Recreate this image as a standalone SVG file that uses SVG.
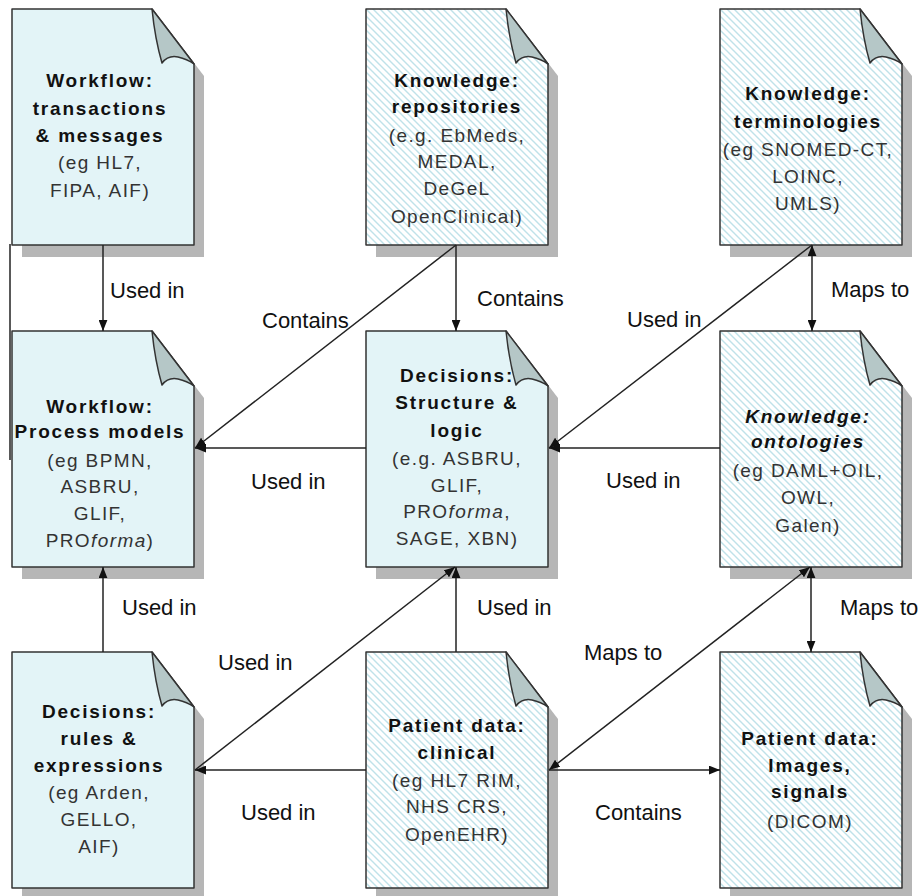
<svg xmlns="http://www.w3.org/2000/svg" width="921" height="896" viewBox="0 0 921 896">
<style>
  .pg { stroke:#333; stroke-width:1.5; stroke-linejoin:round; }
  .solid { fill:#e3f4f7; }
  .hatch { fill:url(#hatch); }
  .shadow { fill:#b6b6b6; }
  .flap { fill:#b5c7c7; stroke:#333; stroke-width:1.5; stroke-linejoin:round; }
  .t { font-family:"Liberation Sans", Arial, sans-serif; text-anchor:middle; }
  .b { font-size:19px; font-weight:bold; fill:#111; letter-spacing:1.8px; }
  .n { font-size:19px; fill:#333; letter-spacing:1.4px; }
  .lbl { font-family:"Liberation Sans", Arial, sans-serif; font-size:22px; fill:#111; }
  .c { fill:none; stroke:#222; stroke-width:1.5; }
</style>
<defs>
  <pattern id="hatch" patternUnits="userSpaceOnUse" width="7" height="7">
    <rect width="7" height="7" fill="#ffffff"/>
    <path d="M-2,-2 L9,9 M-2,5 L2,9 M5,-2 L9,2" stroke="#bfe2e9" stroke-width="1.4"/>
  </pattern>
  <path id="page" d="M0,0 H140 L182,55 V236 H0 Z"/>
  <path id="flap" d="M140,0 Q143,30 150,54 Q156,46 166,48 Q175,50 182,55 Z"/>
  <marker id="arr" viewBox="0 0 10 8" refX="10" refY="4" markerWidth="11" markerHeight="9" markerUnits="userSpaceOnUse" orient="auto-start-reverse">
    <path d="M0,0 L10,4 L0,8 Z" fill="#111"/>
  </marker>
</defs>

<line x1="10" y1="244" x2="10" y2="460" stroke="#222" stroke-width="1.5"/>

<g id="workflow-transactions" transform="translate(12,9)">
  <use href="#page" class="shadow" transform="translate(10,12)"/>
  <use href="#page" class="pg solid"/>
  <use href="#flap" class="flap"/>
  <text class="t b" x="88" y="78">Workflow:</text>
  <text class="t b" x="88" y="106">transactions</text>
  <text class="t b" x="88" y="133">&amp; messages</text>
  <text class="t n" x="88" y="160">(eg HL7,</text>
  <text class="t n" x="88" y="188">FIPA, AIF)</text>
</g>

<g id="knowledge-repositories" transform="translate(366,9)">
  <use href="#page" class="shadow" transform="translate(10,12)"/>
  <use href="#page" class="pg hatch"/>
  <use href="#flap" class="flap"/>
  <text class="t b" x="91" y="78">Knowledge:</text>
  <text class="t b" x="91" y="104">repositories</text>
  <text class="t n" x="91" y="133">(e.g. EbMeds,</text>
  <text class="t n" x="91" y="159">MEDAL,</text>
  <text class="t n" x="91" y="186">DeGeL</text>
  <text class="t n" x="91" y="214">OpenClinical)</text>
</g>

<g id="knowledge-terminologies" transform="translate(720,9)">
  <use href="#page" class="shadow" transform="translate(10,12)"/>
  <use href="#page" class="pg hatch"/>
  <use href="#flap" class="flap"/>
  <text class="t b" x="88" y="91">Knowledge:</text>
  <text class="t b" x="88" y="119">terminologies</text>
  <text class="t n" x="88" y="147">(eg SNOMED-CT,</text>
  <text class="t n" x="88" y="174">LOINC,</text>
  <text class="t n" x="88" y="201">UMLS)</text>
</g>

<g id="workflow-process" transform="translate(12,331)">
  <use href="#page" class="shadow" transform="translate(10,12)"/>
  <use href="#page" class="pg solid"/>
  <use href="#flap" class="flap"/>
  <text class="t b" x="88" y="82">Workflow:</text>
  <text class="t b" x="88" y="107">Process models</text>
  <text class="t n" x="88" y="136">(eg BPMN,</text>
  <text class="t n" x="88" y="162">ASBRU,</text>
  <text class="t n" x="88" y="189">GLIF,</text>
  <text class="t n" x="88" y="216">PRO<tspan font-style="italic">forma</tspan>)</text>
</g>

<g id="decisions-structure" transform="translate(366,331)">
  <use href="#page" class="shadow" transform="translate(10,12)"/>
  <use href="#page" class="pg solid"/>
  <use href="#flap" class="flap"/>
  <text class="t b" x="91" y="51">Decisions:</text>
  <text class="t b" x="91" y="78">Structure &amp;</text>
  <text class="t b" x="91" y="106">logic</text>
  <text class="t n" x="91" y="134">(e.g. ASBRU,</text>
  <text class="t n" x="91" y="161">GLIF,</text>
  <text class="t n" x="91" y="187">PRO<tspan font-style="italic">forma</tspan>,</text>
  <text class="t n" x="91" y="214">SAGE, XBN)</text>
</g>

<g id="knowledge-ontologies" transform="translate(720,331)">
  <use href="#page" class="shadow" transform="translate(10,12)"/>
  <use href="#page" class="pg hatch"/>
  <use href="#flap" class="flap"/>
  <text class="t b" x="88" y="92" font-style="italic">Knowledge:</text>
  <text class="t b" x="88" y="117" font-style="italic">ontologies</text>
  <text class="t n" x="88" y="146">(eg DAML+OIL,</text>
  <text class="t n" x="88" y="173">OWL,</text>
  <text class="t n" x="88" y="201">Galen)</text>
</g>

<g id="decisions-rules" transform="translate(12,652)">
  <use href="#page" class="shadow" transform="translate(10,12)"/>
  <use href="#page" class="pg solid"/>
  <use href="#flap" class="flap"/>
  <text class="t b" x="87" y="66">Decisions:</text>
  <text class="t b" x="87" y="93">rules &amp;</text>
  <text class="t b" x="87" y="120">expressions</text>
  <text class="t n" x="87" y="147">(eg Arden,</text>
  <text class="t n" x="87" y="174">GELLO,</text>
  <text class="t n" x="87" y="201">AIF)</text>
</g>

<g id="patient-clinical" transform="translate(366,652)">
  <use href="#page" class="shadow" transform="translate(10,12)"/>
  <use href="#page" class="pg hatch"/>
  <use href="#flap" class="flap"/>
  <text class="t b" x="91" y="80">Patient data:</text>
  <text class="t b" x="91" y="107">clinical</text>
  <text class="t n" x="91" y="135">(eg HL7 RIM,</text>
  <text class="t n" x="91" y="161">NHS CRS,</text>
  <text class="t n" x="91" y="189">OpenEHR)</text>
</g>

<g id="patient-images" transform="translate(720,652)">
  <use href="#page" class="shadow" transform="translate(10,12)"/>
  <use href="#page" class="pg hatch"/>
  <use href="#flap" class="flap"/>
  <text class="t b" x="90" y="93">Patient data:</text>
  <text class="t b" x="90" y="120">Images,</text>
  <text class="t b" x="90" y="146">signals</text>
  <text class="t n" x="90" y="176">(DICOM)</text>
</g>

<g id="connectors">
  <line class="c" x1="103" y1="245" x2="103" y2="331" marker-end="url(#arr)"/>
  <line class="c" x1="456" y1="245" x2="456" y2="331" marker-end="url(#arr)"/>
  <line class="c" x1="456" y1="245" x2="195" y2="448" marker-end="url(#arr)"/>
  <line class="c" x1="366" y1="448" x2="195" y2="448" marker-end="url(#arr)"/>
  <line class="c" x1="812" y1="245" x2="812" y2="331" marker-start="url(#arr)" marker-end="url(#arr)"/>
  <line class="c" x1="812" y1="245" x2="549" y2="448" marker-end="url(#arr)"/>
  <line class="c" x1="720" y1="448" x2="549" y2="448" marker-end="url(#arr)"/>
  <line class="c" x1="103" y1="652" x2="103" y2="567" marker-end="url(#arr)"/>
  <line class="c" x1="456" y1="652" x2="456" y2="567" marker-end="url(#arr)"/>
  <line class="c" x1="195" y1="770" x2="455" y2="567" marker-end="url(#arr)"/>
  <line class="c" x1="366" y1="770" x2="195" y2="770" marker-end="url(#arr)"/>
  <line class="c" x1="811" y1="567" x2="811" y2="652" marker-start="url(#arr)" marker-end="url(#arr)"/>
  <line class="c" x1="810" y1="567" x2="549" y2="770" marker-start="url(#arr)" marker-end="url(#arr)"/>
  <line class="c" x1="549" y1="770" x2="720" y2="770" marker-end="url(#arr)"/>
  <text class="lbl" x="110" y="298">Used in</text>
  <text class="lbl" x="477" y="306">Contains</text>
  <text class="lbl" x="262" y="328">Contains</text>
  <text class="lbl" x="251" y="489">Used in</text>
  <text class="lbl" x="627" y="327">Used in</text>
  <text class="lbl" x="831" y="297">Maps to</text>
  <text class="lbl" x="606" y="488">Used in</text>
  <text class="lbl" x="122" y="615">Used in</text>
  <text class="lbl" x="477" y="615">Used in</text>
  <text class="lbl" x="218" y="670">Used in</text>
  <text class="lbl" x="241" y="820">Used in</text>
  <text class="lbl" x="584" y="660">Maps to</text>
  <text class="lbl" x="840" y="615">Maps to</text>
  <text class="lbl" x="595" y="820">Contains</text>
</g>
</svg>
